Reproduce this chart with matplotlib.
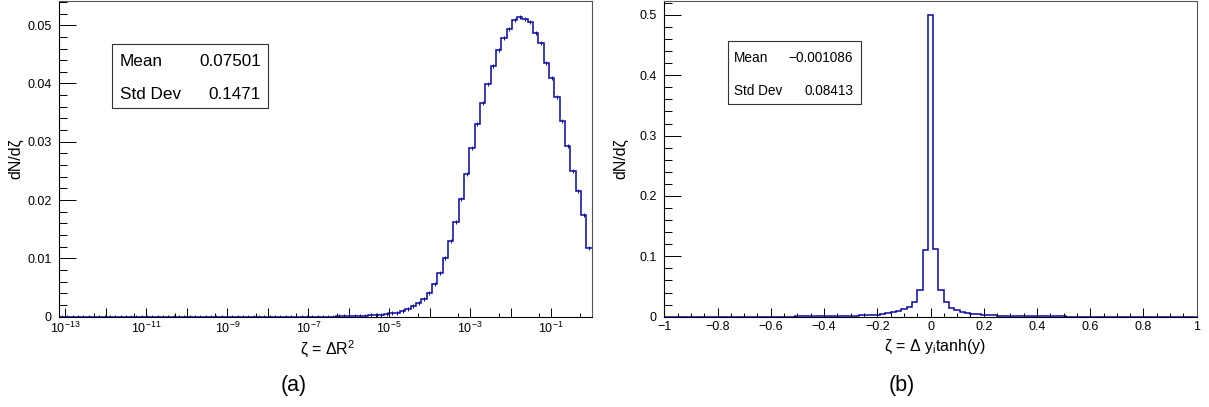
import numpy as np
import matplotlib
matplotlib.use('Agg')
import matplotlib.pyplot as plt
from matplotlib.patches import Rectangle
from matplotlib.ticker import FixedLocator, FixedFormatter

plt.rcParams['font.family'] = ['Liberation Sans', 'DejaVu Sans']
plt.rcParams['mathtext.fontset'] = 'custom'
plt.rcParams['mathtext.rm'] = 'Liberation Sans'
plt.rcParams['mathtext.it'] = 'Liberation Sans:italic'
plt.rcParams['mathtext.bf'] = 'Liberation Sans:bold'

# ---------------- data ----------------
# (a) zeta = dR^2, 100 log-spaced bins from 10^-13.15 to 1
left_log_min = -13.15
left_log_max = 0.0
left_values = [
    0, 0, 0, 0, 0, 0, 0, 0, 0, 0,
    0, 0, 0, 0, 0, 0, 0, 0, 0, 0,
    0, 0, 0, 0, 0, 0, 0, 0, 0, 0,
    0, 0, 0, 0, 0.000001, 0.000001, 0.000001, 0.000002, 0.000002, 0.000003,
    0.000003, 0.000004, 0.000005, 0.000006, 0.000007, 0.000008, 0.00001, 0.000012, 0.000015, 0.000018,
    0.00002, 0.00003, 0.00004, 0.00005, 0.00007, 0.00009, 0.00012, 0.00016, 0.00021, 0.00028,
    0.00036, 0.00045, 0.00060, 0.00072, 0.0010, 0.0014, 0.0018, 0.0024, 0.0031, 0.0041,
    0.0056, 0.0075, 0.0100, 0.0130, 0.0162, 0.0202, 0.0244, 0.0290, 0.0330, 0.0366,
    0.0399, 0.0430, 0.0457, 0.0478, 0.0494, 0.0509, 0.0514, 0.0511, 0.0506, 0.0487,
    0.0469, 0.0435, 0.0409, 0.0377, 0.0336, 0.0293, 0.0250, 0.0216, 0.0174, 0.0118,
]
left_stats = [("Mean", "0.07501"), ("Std Dev", "0.1471")]
left_yticks = [0, 0.01, 0.02, 0.03, 0.04, 0.05]
left_yticklabels = ["0", "0.01", "0.02", "0.03", "0.04", "0.05"]
left_xdecades = list(range(-13, 1))
left_xticklabels = [r"$10^{-13}$", "", r"$10^{-11}$", "", r"$10^{-9}$", "", r"$10^{-7}$", "",
                    r"$10^{-5}$", "", r"$10^{-3}$", "", r"$10^{-1}$", ""]

# (b) zeta = dy tanh(y), 101 bins of width 0.02 centred on 0
right_bin_width = 0.02
right_values = [
    0.00005, 0.00005, 0.00005, 0.00006, 0.00006, 0.00007, 0.00007, 0.00008, 0.00008, 0.00009,
    0.0001, 0.0001, 0.00011, 0.00012, 0.00013, 0.00014, 0.00015, 0.00016, 0.00018, 0.0002,
    0.00022, 0.00024, 0.00027, 0.0003, 0.00033, 0.00037, 0.00041, 0.00046, 0.00052, 0.00058,
    0.0007, 0.0008, 0.0009, 0.0011, 0.0013, 0.0015, 0.0018, 0.0021, 0.0025, 0.0030,
    0.0036, 0.0045, 0.0056, 0.0072, 0.0094, 0.0120, 0.0166, 0.0243, 0.0436, 0.1105,
    0.499,
    0.112, 0.0436, 0.0238, 0.0150, 0.0110, 0.0083, 0.0066, 0.0052, 0.0042, 0.0034,
    0.0028, 0.0023, 0.0019, 0.0016, 0.0014, 0.0012, 0.0010, 0.0009, 0.0008, 0.0007,
    0.0006, 0.0005, 0.00045, 0.0004, 0.00036, 0.00032, 0.00029, 0.00026, 0.00023, 0.0002,
    0.00018, 0.00016, 0.00015, 0.00014, 0.00013, 0.00012, 0.00011, 0.0001, 0.0001, 0.00009,
    0.00008, 0.00008, 0.00007, 0.00007, 0.00006, 0.00006, 0.00005, 0.00005, 0.00005, 0.00004,
]
right_stats = [("Mean", "\u22120.001086"), ("Std Dev", "0.08413")]
right_yticks = [0, 0.1, 0.2, 0.3, 0.4, 0.5]
right_yticklabels = ["0", "0.1", "0.2", "0.3", "0.4", "0.5"]
right_xticks = [-1, -0.8, -0.6, -0.4, -0.2, 0, 0.2, 0.4, 0.6, 0.8, 1]
right_xticklabels = ["\u22121", "\u22120.8", "\u22120.6", "\u22120.4", "\u22120.2", "0",
                     "0.2", "0.4", "0.6", "0.8", "1"]

# ---------------- layout ----------------
W, H = 1209, 407
DPI = 100
fig = plt.figure(figsize=(W / DPI, H / DPI), dpi=DPI)

def fx(px):
    return px / W

def fy(py):
    return 1 - py / H

ax_top, ax_bot = 1.0, 316.7
axL = fig.add_axes([fx(59.3), fy(ax_bot), fx(591.7 - 59.3), (ax_bot - ax_top) / H])
axR = fig.add_axes([fx(664.3), fy(ax_bot), fx(1196.7 - 664.3), (ax_bot - ax_top) / H])

LINE = '#0808a0'
TICK_FS = 9
TITLE_FS = 11.5

def style(ax):
    for s in ['left', 'bottom']:
        ax.spines[s].set_color('black')
        ax.spines[s].set_linewidth(0.8)
    for s in ['top', 'right']:
        ax.spines[s].set_color('#555555')
        ax.spines[s].set_linewidth(0.8)
    ax.tick_params(axis='both', which='both', direction='in', top=False, right=False,
                   width=0.7, color='black', labelsize=TICK_FS)
    ax.tick_params(axis='y', which='major', length=12, pad=5.5)
    ax.tick_params(axis='y', which='minor', length=6)
    ax.tick_params(axis='x', which='major', length=6.7, pad=3)
    ax.tick_params(axis='x', which='minor', length=3.2)

# ---- panel (a)
left_edges = np.logspace(left_log_min, left_log_max, len(left_values) + 1)
left_centers = np.sqrt(left_edges[:-1] * left_edges[1:])
axL.set_xscale('log')
axL.stairs(left_values, left_edges, baseline=None, color=LINE, lw=1.1)
axL.plot(left_centers, left_values, ls='none', marker='|', ms=3, mew=0.7, color=LINE)
axL.set_xlim(left_edges[0], left_edges[-1])
axL.set_ylim(0, 0.05415)
style(axL)
axL.xaxis.set_major_locator(FixedLocator([10.0 ** k for k in left_xdecades]))
axL.xaxis.set_major_formatter(FixedFormatter(left_xticklabels))
axL.xaxis.set_minor_locator(FixedLocator([5 * 10.0 ** k for k in range(-14, 0)]))
axL.xaxis.set_minor_formatter(FixedFormatter([]))
axL.yaxis.set_major_locator(FixedLocator(left_yticks))
axL.yaxis.set_major_formatter(FixedFormatter(left_yticklabels))
axL.yaxis.set_minor_locator(FixedLocator(np.arange(0, 0.0541, 0.002)))
axL.set_xlabel("\u03b6 = \u0394R$^{2}$", fontsize=TITLE_FS)
axL.set_ylabel("dN/d\u03b6", fontsize=TITLE_FS)
axL.xaxis.set_label_coords(0.505, -0.068)
axL.yaxis.set_label_coords(-0.068, 0.5)
axL.get_yticklabels()[0].set_verticalalignment('center_baseline')

# ---- panel (b)
right_edges = (np.arange(len(right_values) + 1) - (len(right_values)) / 2) * right_bin_width
axR.stairs(right_values, right_edges, baseline=None, color=LINE, lw=1.1)
axR.set_xlim(-1, 1)
axR.set_ylim(0, 0.523)
style(axR)
axR.xaxis.set_major_locator(FixedLocator(right_xticks))
axR.xaxis.set_major_formatter(FixedFormatter(right_xticklabels))
axR.xaxis.set_minor_locator(FixedLocator(np.arange(-1, 1.001, 0.05)))
axR.yaxis.set_major_locator(FixedLocator(right_yticks))
axR.yaxis.set_major_formatter(FixedFormatter(right_yticklabels))
axR.yaxis.set_minor_locator(FixedLocator(np.arange(0, 0.521, 0.02)))
axR.set_xlabel("\u03b6 = \u0394 y$_{\\mathrm{i}}$tanh(y)", fontsize=TITLE_FS)
axR.set_ylabel("dN/d\u03b6", fontsize=TITLE_FS)
axR.xaxis.set_label_coords(0.508, -0.068)
axR.yaxis.set_label_coords(-0.068, 0.5)
axR.get_yticklabels()[0].set_verticalalignment('center_baseline')

# ---- stats boxes
def stats_box(x0, y0, x1, y1, rows, xl, xr, ys, fs):
    fig.patches.append(Rectangle((fx(x0), fy(y1)), fx(x1 - x0), (y1 - y0) / H,
                                 transform=fig.transFigure, fill=True, facecolor='white',
                                 edgecolor='#333333', lw=0.8, zorder=5))
    for (name, val), yy in zip(rows, ys):
        fig.text(fx(xl), fy(yy), name, ha='left', va='center', fontsize=fs, zorder=6)
        fig.text(fx(xr), fy(yy), val, ha='right', va='center', fontsize=fs, zorder=6)

stats_box(111.7, 44.3, 268.0, 108.3, left_stats, 119.8, 261.0, [61.7, 94.3], 12.3)
stats_box(728.3, 41.0, 861.0, 104.3, right_stats, 734.3, 853.3, [58.0, 90.7], 9.8)

# ---- panel letters
fig.text(fx(294), fy(386), "(a)", ha='center', va='center', fontsize=15.5)
fig.text(fx(902), fy(386), "(b)", ha='center', va='center', fontsize=15.5)

fig.savefig('out.png', dpi=DPI)
